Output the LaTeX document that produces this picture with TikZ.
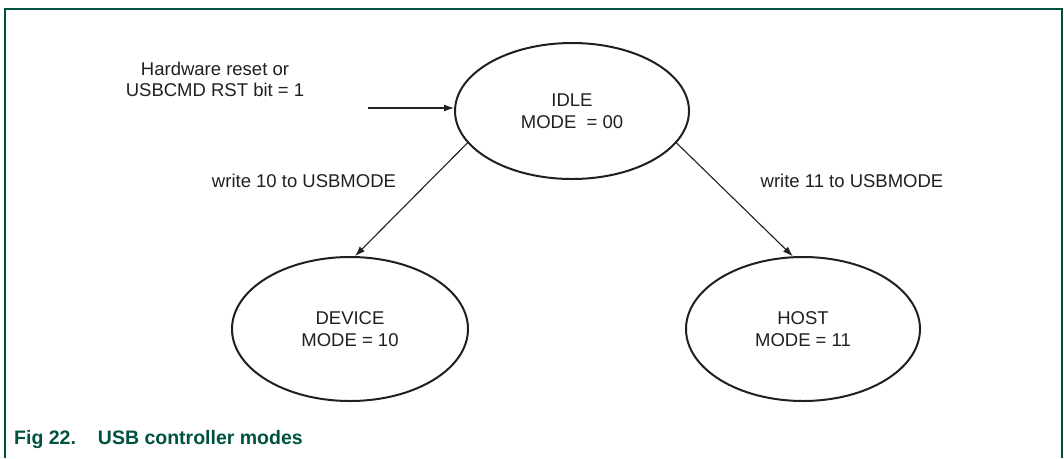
\documentclass[tikz,border=0pt]{standalone}
\usepackage{fontspec}
\setmainfont{Liberation Sans}
\usetikzlibrary{arrows.meta,shapes.geometric}
\definecolor{nxpgreen}{RGB}{0,82,64}
\definecolor{ink}{RGB}{35,31,32}
\begin{document}
\begin{tikzpicture}[x=1pt,y=-1pt,
  state/.style={ellipse,draw=ink,line width=2pt,inner sep=0pt,align=center,
    font=\fontsize{18.5}{22}\selectfont,text=ink},
  lbl/.style={font=\fontsize{18.5}{21}\selectfont,text=ink,align=center,inner sep=0pt},
  conn/.style={draw=ink,line width=1.1pt,-{Latex[length=10pt,width=7pt]}},
  figcaption/.style={font=\fontsize{19.5}{22}\selectfont\bfseries,text=nxpgreen,inner sep=0pt,anchor=base west}]
\useasboundingbox (0,0) rectangle (1064,458);
\fill[white] (0,0) rectangle (1064,458);
\draw[nxpgreen,line width=1.5pt] (5,458) -- (5,9) -- (1062,9) -- (1062,458);
\node[state,minimum width=234pt,minimum height=136pt] (idle) at (572,111) {IDLE\\MODE\ \ = 00};
\node[state,minimum width=236pt,minimum height=144pt] (device) at (350,329) {DEVICE\\MODE = 10};
\node[state,minimum width=234pt,minimum height=144pt] (host) at (803,329) {HOST\\MODE = 11};
\node[lbl] (reset) at (215,79) {Hardware reset or\\USBCMD RST bit = 1};
\coordinate (start) at (368,108);
\draw[conn] (start) -- (start -| idle.west);
\draw[conn] (idle.197) -- (device.86);
\draw[conn] (idle.343) -- (host.98);
\node[lbl] (w10) at (304,181) {write 10 to USBMODE};
\node[lbl] (w11) at (852,181) {write 11 to USBMODE};
\node[figcaption] (caption) at (14,444) {Fig 22.\hspace{22pt}USB controller modes};
\end{tikzpicture}
\end{document}
